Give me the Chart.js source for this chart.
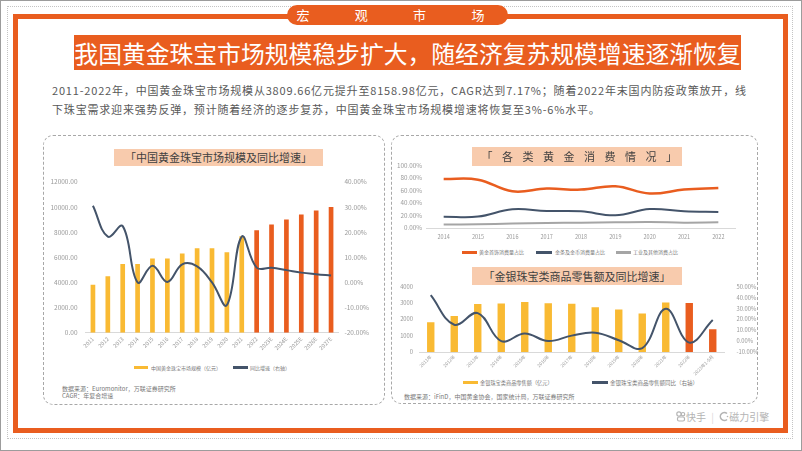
<!DOCTYPE html>
<html lang="zh-CN">
<head>
<meta charset="utf-8">
<script src="https://cdn.jsdelivr.net/npm/chart.js@4/dist/chart.umd.min.js"></script>
<style>
  html, body { margin:0; padding:0; background:#fff; }
  body { width:802px; height:451px; position:relative; overflow:hidden;
         font-family:"Noto Sans CJK SC","Noto Sans",sans-serif; }
  .abs { position:absolute; }
  .outer { left:0; top:0; width:802px; height:451px; box-sizing:border-box; border:1px solid #9c9c9c; }
  .dotted { left:7px; top:6px; width:786px; height:433px; box-sizing:border-box; border:1px dotted #c4c4c4; }
  .frame { left:13px; top:14px; width:775px; height:419px; box-sizing:border-box; border:5px solid #E95D1F; }
  .pill { left:287px; top:5px; width:221px; height:20px; background:#E95D1F; border-radius:10px;
          color:#fff; font-size:13px; line-height:20px; text-align:left; letter-spacing:45.3px; text-indent:9.5px;
          white-space:nowrap; overflow:hidden; }
  .banner { left:74px; top:35px; width:667px; height:35px; background:#E95D1F; color:#fff;
            font-size:23.8px; line-height:35px; text-align:center; white-space:nowrap; overflow:hidden; }
  .para { left:52px; top:81px; font-size:11px; line-height:19px; color:#595959; letter-spacing:0.82px; white-space:nowrap; }
  .panel { box-sizing:border-box; border:1px dashed #a8a8a8; border-radius:10px; }
  .ttl { background:#F8CBAD; color:#3f3f3f; font-size:11px; text-align:center; white-space:nowrap; z-index:5; }
  canvas { position:absolute; }
  .lg { font-size:5px; color:#777; white-space:nowrap; line-height:6px; z-index:6; }
  .sw { height:3px; }
  .src { font-size:6px; line-height:6.5px; color:#777; white-space:nowrap; }
  .logo { left:676px; top:410px; font-size:10px; color:#b4b4b4; white-space:nowrap; line-height:14px; }
</style>
</head>
<body>
<div class="abs outer"></div>
<div class="abs dotted"></div>
<div class="abs frame"></div>
<div class="abs pill">宏观市场</div>
<div class="abs banner">我国黄金珠宝市场规模稳步扩大，随经济复苏规模增速逐渐恢复</div>
<div class="abs para">2011-2022年，中国黄金珠宝市场规模从3809.66亿元提升至8158.98亿元，CAGR达到7.17%；随着2022年末国内防疫政策放开，线<br>下珠宝需求迎来强势反弹，预计随着经济的逐步复苏，中国黄金珠宝市场规模增速将恢复至3%-6%水平。</div>

<div class="abs panel" style="left:43px;top:135px;width:342px;height:270px;"></div>
<div class="abs panel" style="left:391px;top:135px;width:367px;height:269px;"></div>

<canvas id="c1" width="340" height="191" style="left:44px;top:170px;"></canvas>
<canvas id="c2" width="350" height="90" style="left:395px;top:157px;"></canvas>
<canvas id="c3" width="372" height="107" style="left:389px;top:271px;"></canvas>

<div class="abs ttl" style="left:114px;top:149px;width:209px;height:17px;line-height:17px;">「中国黄金珠宝市场规模及同比增速」</div>
<div class="abs ttl" style="left:472px;top:147px;width:210px;height:19px;line-height:19px;letter-spacing:9.5px;text-indent:9.5px;">「各类黄金消费情况」</div>
<div class="abs ttl" style="left:472px;top:267px;width:210px;height:18px;line-height:18px;">「金银珠宝类商品零售额及同比增速」</div>

<!-- legends -->
<div class="abs sw" style="left:134px;top:366px;width:14px;background:#F9BA33;"></div>
<div class="abs lg" style="left:151px;top:364.7px;">中国黄金珠宝市场规模（亿元）</div>
<div class="abs sw" style="left:233px;top:366px;width:15px;background:#44546A;"></div>
<div class="abs lg" style="left:250px;top:364.7px;">同比增速（右轴）</div>

<div class="abs sw" style="left:462px;top:250.5px;width:15px;background:#E95D1F;"></div>
<div class="abs lg" style="left:479px;top:249px;">黄金首饰消费量占比</div>
<div class="abs sw" style="left:536px;top:250.5px;width:16px;background:#44546A;"></div>
<div class="abs lg" style="left:555px;top:249px;">金条及金币消费量占比</div>
<div class="abs sw" style="left:616px;top:250.5px;width:15px;background:#A5A5A5;"></div>
<div class="abs lg" style="left:633px;top:249px;">工业及其他消费占比</div>

<div class="abs sw" style="left:463px;top:381px;width:15px;background:#F9BA33;"></div>
<div class="abs lg" style="left:480px;top:379.7px;font-size:5.2px;">金银珠宝类商品零售额（亿元）</div>
<div class="abs sw" style="left:592px;top:381px;width:16px;background:#44546A;"></div>
<div class="abs lg" style="left:610px;top:379.7px;font-size:5.5px;">金银珠宝类商品零售额同比（右轴）</div>

<div class="abs src" style="left:62px;top:386px;">数据来源：Euromonitor，万联证券研究所<br>CAGR：年复合增速</div>
<div class="abs src" style="left:404px;top:394px;">数据来源：iFinD，中国黄金协会，国家统计局，万联证券研究所</div>

<div class="abs logo">
  <svg width="10" height="11" viewBox="0 0 10 11" style="vertical-align:-1px"><circle cx="3" cy="3" r="2.2" fill="none" stroke="#b4b4b4" stroke-width="1.2"/><circle cx="7" cy="3.2" r="1.7" fill="none" stroke="#b4b4b4" stroke-width="1.2"/><rect x="1.5" y="6" width="7" height="4" rx="1.5" fill="none" stroke="#b4b4b4" stroke-width="1.2"/></svg>快手
  <span style="color:#d8d8d8;margin:0 3px;">|</span>
  <svg width="10" height="11" viewBox="0 0 10 11" style="vertical-align:-1px"><path d="M8 2.5 A4 4 0 1 0 8 8.5" fill="none" stroke="#b4b4b4" stroke-width="1.6"/><circle cx="8.5" cy="5.5" r="0.8" fill="#b4b4b4"/></svg>磁力引擎
</div>

<script>
// ---------- Data ----------
const marketYears = ['2011','2012','2013','2014','2015','2016','2017','2018','2019','2020','2021','2022','2023E','2024E','2025E','2026E','2027E'];
const marketSize = [3809.66, 4500, 5460, 5460, 5910, 5910, 6310, 6730, 6730, 6410, 7680, 8158.98, 8610, 9010, 9410, 9730, 10010];
const marketYoY = [30.5, 18.2, 22.4, 0.0, 6.6, 0.2, 7.2, 6.4, 0.0, -9.0, 18.2, 5.9, 5.8, 4.9, 3.9, 3.3, 2.8];
const marketHighlightFrom = '2022';
const marketLeftTicks = [0, 2000, 4000, 6000, 8000, 10000, 12000];
const marketRightTicks = [-20, -10, 0, 10, 20, 30, 40];

const goldYears = ['2014','2015','2016','2017','2018','2019','2020','2021','2022'];
const jewelryShare = [78, 77, 58.5, 62.8, 61.2, 66.5, 55, 61.2, 63.8];
const barCoinShare = [18, 18.2, 29.8, 27.1, 26.6, 20.2, 30.2, 26.6, 25.5];
const industryShare = [5.5, 6, 7, 8, 8.5, 9, 9.5, 8.5, 9];
const goldTicks = [0, 20, 40, 60, 80, 100];

const retailCats = ['2011年','2012年','2013年','2014年','2015年','2016年','2017年','2018年','2019年','2020年','2021年','2022年','2023年1-5月'];
const retailSales = [1810, 2200, 2930, 2955, 3060, 2975, 2950, 2735, 2590, 2355, 3015, 2990, 1385];
const retailYoY = [42, 15, 25.6, 0, 6.9, 0, 5, 7.7, 0.8, -6.5, 29.5, -1.4, 19.3];
const retailHighlightFrom = '2022年';
const retailLeftTicks = [0, 1000, 2000, 3000, 4000];
const retailRightTicks = [-10, 0, 10, 20, 30, 40, 50];

// ---------- Styles ----------
const YELLOW = '#F9BA33', ORANGE = '#E95D1F', SLATE = '#44546A', GREY = '#A5A5A5';
const AXIS = '#d9d9d9', TICK = '#9a9a9a';
Chart.defaults.font.family = '"Noto Sans CJK SC","Noto Sans",sans-serif';
Chart.defaults.color = TICK;
Chart.defaults.animation = false;

function fixedTicks(arr) {
  return function(scale) { scale.ticks = arr.map(v => ({ value: v })); };
}
const noGrid = { display: false, drawTicks: false };
const noLegend = { legend: { display: false }, tooltip: { enabled: false } };

// ---------- Chart 1 ----------
const hi1 = marketYears.indexOf(marketHighlightFrom);
new Chart(document.getElementById('c1'), {
  data: {
    labels: marketYears,
    datasets: [
      { type: 'line', label: '同比增速（右轴）', data: marketYoY, yAxisID: 'yR',
        borderColor: SLATE, borderWidth: 2, tension: 0.4, pointRadius: 0, order: 0 },
      { type: 'bar', label: '中国黄金珠宝市场规模（亿元）', data: marketSize, yAxisID: 'y',
        backgroundColor: marketYears.map((c, i) => i >= hi1 ? ORANGE : YELLOW),
        barPercentage: 0.35, categoryPercentage: 0.9, order: 1 }
    ]
  },
  options: {
    responsive: false, animation: false,
    layout: { padding: { top: 11.7, left: 0, right: 0, bottom: 0 } },
    plugins: noLegend,
    scales: {
      x: { grid: noGrid, border: { color: AXIS },
           ticks: { font: { size: 5.5 }, minRotation: 45, maxRotation: 45, padding: 3, autoSkip: false },
           afterFit: s => { s.height = 28.3; } },
      y: { position: 'left', min: 0, max: 12000, grid: noGrid, border: { display: false },
           afterBuildTicks: fixedTicks(marketLeftTicks),
           ticks: { callback: v => Number(v).toFixed(2), font: { size: 6.5 }, padding: 8 },
           afterFit: s => { s.width = 41.5; } },
      yR: { position: 'right', min: -20, max: 40, grid: noGrid, border: { display: false },
            afterBuildTicks: fixedTicks(marketRightTicks),
            ticks: { callback: v => Number(v).toFixed(2) + '%', font: { size: 6.5 }, padding: 6 },
            afterFit: s => { s.width = 45.5; } }
    }
  }
});

// ---------- Chart 2 ----------
new Chart(document.getElementById('c2'), {
  type: 'line',
  data: {
    labels: goldYears,
    datasets: [
      { label: '黄金首饰消费量占比', data: jewelryShare, borderColor: ORANGE, borderWidth: 2.5, tension: 0.4, pointRadius: 0 },
      { label: '金条及金币消费量占比', data: barCoinShare, borderColor: SLATE, borderWidth: 2, tension: 0.4, pointRadius: 0 },
      { label: '工业及其他消费占比', data: industryShare, borderColor: GREY, borderWidth: 2, tension: 0.4, pointRadius: 0 }
    ]
  },
  options: {
    responsive: false, animation: false,
    layout: { padding: { top: 8, right: 9.5, left: 0, bottom: 0 } },
    plugins: noLegend,
    scales: {
      x: { offset: true, grid: noGrid, border: { color: AXIS },
           ticks: { font: { size: 5.5 }, padding: 6, maxRotation: 0, autoSkip: false },
           afterFit: s => { s.height = 19; } },
      y: { min: 0, max: 100, grid: noGrid, border: { display: false },
           afterBuildTicks: fixedTicks(goldTicks),
           ticks: { callback: v => Number(v).toFixed(2) + '%', font: { size: 6.3 }, padding: 4.5 },
           afterFit: s => { s.width = 31.5; } }
    }
  }
});

// ---------- Chart 3 ----------
const hi3 = retailCats.indexOf(retailHighlightFrom);
new Chart(document.getElementById('c3'), {
  data: {
    labels: retailCats,
    datasets: [
      { type: 'line', label: '金银珠宝类商品零售额同比（右轴）', data: retailYoY, yAxisID: 'yR',
        borderColor: SLATE, borderWidth: 2, tension: 0.4, pointRadius: 0, order: 0 },
      { type: 'bar', label: '金银珠宝类商品零售额（亿元）', data: retailSales, yAxisID: 'y',
        backgroundColor: retailCats.map((c, i) => i >= hi3 ? ORANGE : YELLOW),
        barPercentage: 0.35, categoryPercentage: 0.9, order: 1 }
    ]
  },
  options: {
    responsive: false, animation: false,
    layout: { padding: { top: 8, left: 0, right: 0, bottom: 0 } },
    plugins: noLegend,
    scales: {
      x: { grid: noGrid, border: { color: AXIS },
           ticks: { font: { size: 4.6 }, minRotation: 45, maxRotation: 45, padding: 2, autoSkip: false },
           afterFit: s => { s.height = 26; } },
      y: { position: 'left', min: 0, max: 4000, grid: noGrid, border: { display: false },
           afterBuildTicks: fixedTicks(retailLeftTicks),
           ticks: { callback: v => String(v), font: { size: 5.8 }, padding: 6 },
           afterFit: s => { s.width = 30; } },
      yR: { position: 'right', min: -10, max: 50, grid: noGrid, border: { display: false },
            afterBuildTicks: fixedTicks(retailRightTicks),
            ticks: { callback: v => Number(v).toFixed(2) + '%', font: { size: 5.8 }, padding: 12 },
            afterFit: s => { s.width = 36.5; } }
    }
  }
});
</script>
</body>
</html>
